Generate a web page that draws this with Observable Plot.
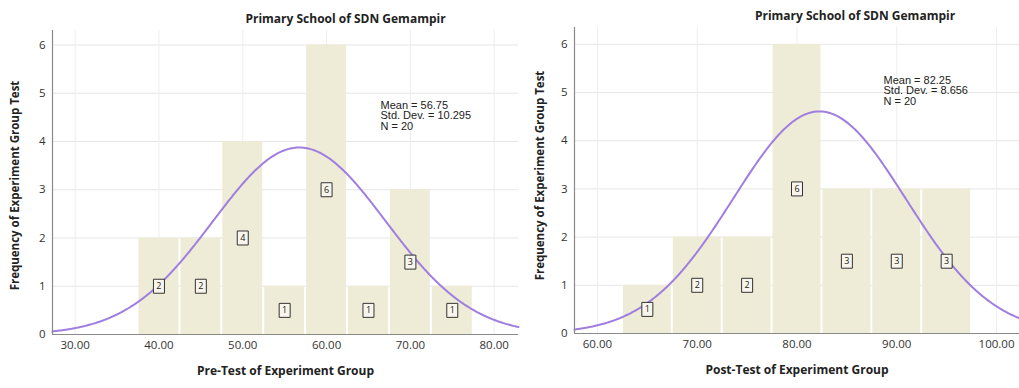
<!DOCTYPE html>
<html>
<head>
<meta charset="utf-8">
<script src="https://cdn.jsdelivr.net/npm/d3@7"></script>
<script src="https://cdn.jsdelivr.net/npm/@observablehq/plot@0.6"></script>
<style>
  html, body { margin: 0; padding: 0; background: #fff; }
  #wrap { position: relative; width: 1019px; height: 388px; overflow: hidden; }
  #wrap svg { position: absolute; top: 0; font-family: "Open Sans", "DejaVu Sans", sans-serif; }
  [aria-label="x-axis tick label"] text, [aria-label="y-axis tick label"] text { fill: #333; }
</style>
</head>
<body>
<div id="wrap"></div>
<script>
// ---- data ----
const chartTitle = "Primary School of SDN Gemampir";
const yTitle = "Frequency of Experiment Group Test";
const binWidth = 5;

const preTitle = "Pre-Test of Experiment Group";
const preMid = [40, 45, 50, 55, 60, 65, 70, 75];
const preCount = [2, 2, 4, 1, 6, 1, 3, 1];
const preMean = 56.75, preSD = 10.295, preN = 20;
const preXTicks = [30, 40, 50, 60, 70, 80];

const postTitle = "Post-Test of Experiment Group";
const postMid = [65, 70, 75, 80, 85, 90, 95];
const postCount = [1, 2, 2, 6, 3, 3, 3];
const postMean = 82.25, postSD = 8.656, postN = 20;
const postXTicks = [60, 70, 80, 90, 100];

const yTicks = [0, 1, 2, 3, 4, 5, 6];

const barColor = "#eeebd6";
const curveColor = "#a07ee0";
const axisColor = "#8a8a8a";

const boxSymbol = { draw(ctx) { ctx.rect(-5.5, -7, 11, 14); } };

function panel({mids, counts, mean, sd, n, sdText, xTicks, xDomain, yMax, xLabel,
                width, marginLeft, marginRight, marginTop, marginBottom,
                yLabelDx, yLabelDy, titleDx, statsDx, statsDy}) {
  const bins = mids.map((m, i) => ({mid: m, x1: m - binWidth / 2, x2: m + binWidth / 2, count: counts[i]}));
  const k = n * binWidth / (sd * Math.sqrt(2 * Math.PI));
  const curve = d3.range(xDomain[0], xDomain[1] + 0.05, 0.1)
    .map(x => ({x, y: k * Math.exp(-0.5 * ((x - mean) / sd) ** 2)}));
  const stats = [`Mean = ${mean.toFixed(2)}`, `Std. Dev. = ${sdText}`, `N = ${n}`].join("\n");
  return Plot.plot({
    width, height: 388, marginLeft, marginRight, marginTop, marginBottom,
    x: {domain: xDomain},
    y: {domain: [0, yMax]},
    style: {fontFamily: "'Open Sans', 'DejaVu Sans', sans-serif", fontSize: "11.5px", overflow: "visible"},
    marks: [
      Plot.gridY(yTicks, {stroke: "#e6e6e6", strokeOpacity: 1}),
      Plot.gridX(xTicks, {stroke: "#eeeeee", strokeOpacity: 1}),
      Plot.rectY(bins, {x1: "x1", x2: "x2", y: "count", fill: barColor, insetLeft: 1, insetRight: 1}),
      Plot.line(curve, {x: "x", y: "y", stroke: curveColor, strokeWidth: 2}),
      Plot.dot(bins, {x: "mid", y: d => d.count / 2, symbol: boxSymbol, fill: "#f8f6ec", stroke: "#333", strokeWidth: 1}),
      Plot.text(bins, {x: "mid", y: d => d.count / 2, text: d => String(d.count), fontSize: 9, fill: "#222"}),
      Plot.ruleX([xDomain[0]], {stroke: axisColor, strokeWidth: 1.2}),
      Plot.ruleY([0], {stroke: axisColor, strokeWidth: 1.2}),
      Plot.axisX(xTicks, {tickFormat: d => d.toFixed(2), tickSize: 0, tickPadding: 6, label: null}),
      Plot.axisY(yTicks, {tickFormat: d => String(d), tickSize: 0, tickPadding: 7, label: null}),
      Plot.text([xLabel], {frameAnchor: "bottom", dy: 40, fontWeight: "bold", fontSize: 12, fill: "#222"}),
      Plot.text([yTitle], {frameAnchor: "left", dx: yLabelDx, dy: yLabelDy, rotate: -90, textAnchor: "middle",
                           fontWeight: "bold", fontSize: 11.5, fill: "#222"}),
      Plot.text([chartTitle], {frameAnchor: "top", dx: titleDx, dy: -16, fontWeight: "bold", fontSize: 12, fill: "#222"}),
      Plot.text([stats], {frameAnchor: "top-left", dx: statsDx, dy: statsDy, textAnchor: "start", lineAnchor: "top",
                          lineHeight: 0.95, fontSize: 11, fill: "#222",
                          fontFamily: "'Liberation Sans', Arial, sans-serif"})
    ]
  });
}

const left = panel({
  mids: preMid, counts: preCount, mean: preMean, sd: preSD, n: preN, sdText: "10.295",
  xTicks: preXTicks, xDomain: [27.3, 82.9], yMax: 6.3, xLabel: preTitle,
  width: 520, marginLeft: 52, marginRight: 2, marginTop: 30, marginBottom: 54,
  yLabelDx: -37, yLabelDy: 3, titleDx: 60, statsDx: 328, statsDy: 71
});
left.style.left = "0px";

const right = panel({
  mids: postMid, counts: postCount, mean: postMean, sd: postSD, n: postN, sdText: "8.656",
  xTicks: postXTicks, xDomain: [57.7, 102.3], yMax: 6.35, xLabel: postTitle,
  width: 500, marginLeft: 55, marginRight: 0, marginTop: 27, marginBottom: 55,
  yLabelDx: -34, yLabelDy: -5, titleDx: 58, statsDx: 309, statsDy: 49
});
right.style.left = "519px";

document.getElementById("wrap").append(left, right);
</script>
</body>
</html>
